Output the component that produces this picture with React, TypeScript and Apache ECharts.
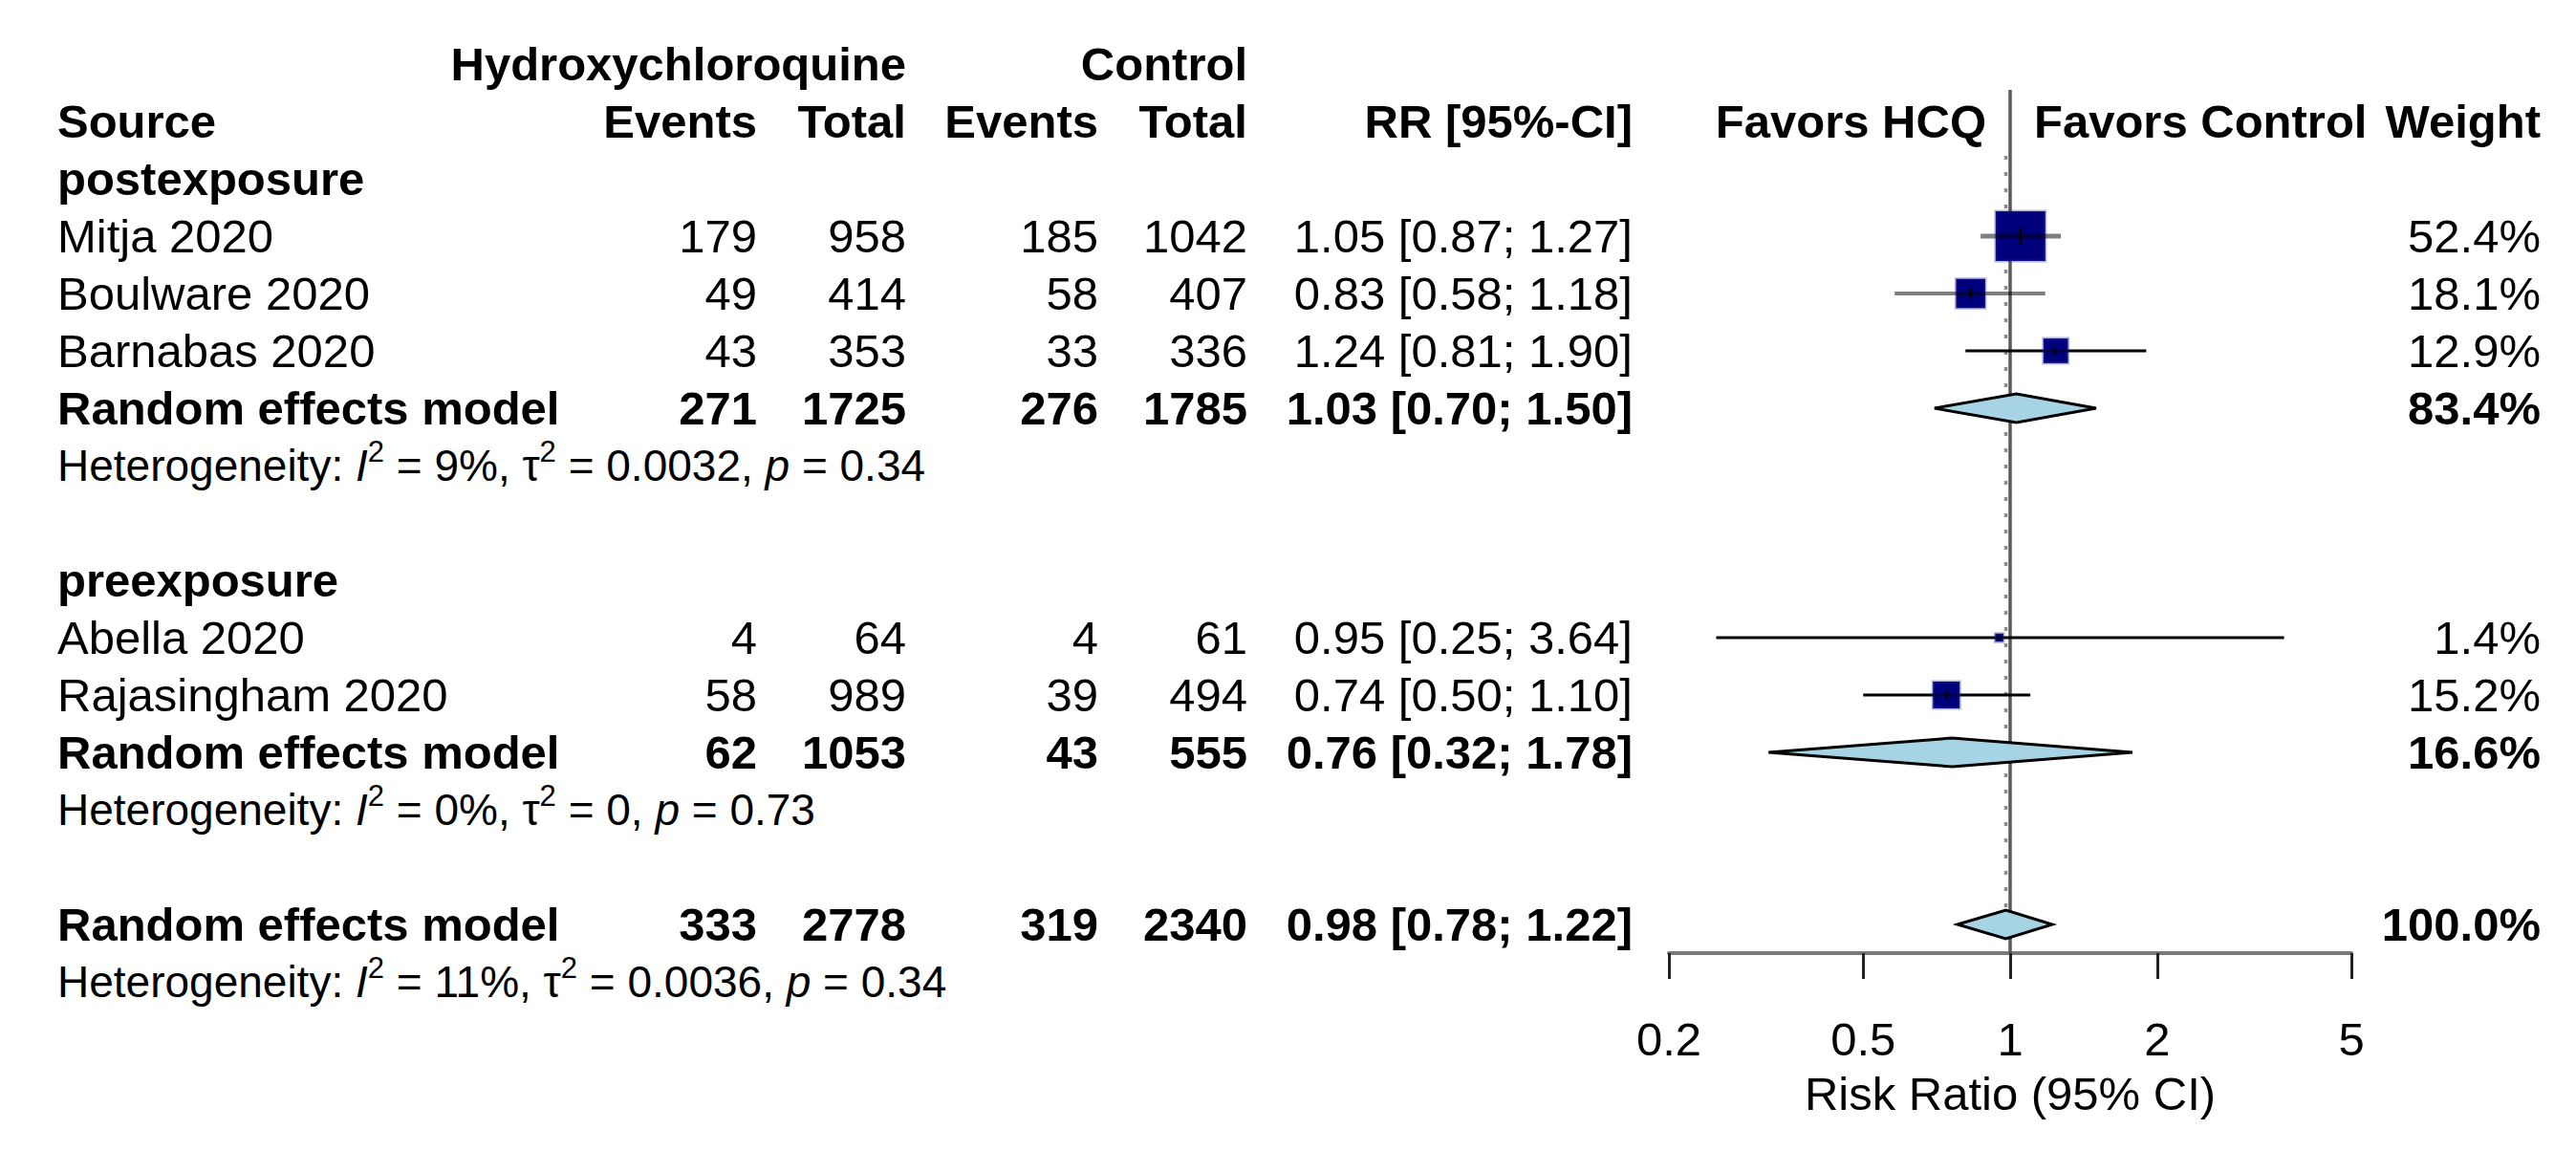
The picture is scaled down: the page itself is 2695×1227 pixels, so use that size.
import React, { useEffect, useRef } from "react";
import * as echarts from "echarts";

// ---------------- data ----------------
const groupNames = ["postexposure", "preexposure"];
const studyNames = ["Mitja 2020", "Boulware 2020", "Barnabas 2020", "Abella 2020", "Rajasingham 2020"];
const studyGroup = [0, 0, 0, 1, 1];
const hcqEvents = [179, 49, 43, 4, 58];
const hcqTotal = [958, 414, 353, 64, 989];
const ctrlEvents = [185, 58, 33, 4, 39];
const ctrlTotal = [1042, 407, 336, 61, 494];
const studyRR = [1.05, 0.83, 1.24, 0.95, 0.74];
const studyLower = [0.87, 0.58, 0.81, 0.25, 0.5];
const studyUpper = [1.27, 1.18, 1.9, 3.64, 1.1];
const studyWeight = [52.4, 18.1, 12.9, 1.4, 15.2];

const pooledLabel = "Random effects model";
const pooledHcqEvents = [271, 62, 333];
const pooledHcqTotal = [1725, 1053, 2778];
const pooledCtrlEvents = [276, 43, 319];
const pooledCtrlTotal = [1785, 555, 2340];
const pooledRR = [1.03, 0.76, 0.98];
const pooledLower = [0.7, 0.32, 0.78];
const pooledUpper = [1.5, 1.78, 1.22];
const pooledWeight = [83.4, 16.6, 100.0];
const hetI2 = ["9%", "0%", "11%"];
const hetTau2 = ["0.0032", "0", "0.0036"];
const hetP = ["0.34", "0.73", "0.34"];

const xTicks = [0.2, 0.5, 1, 2, 5];
const armLabels = ["Hydroxychloroquine", "Control"];
const columnLabels = ["Source", "Events", "Total", "Events", "Total", "RR [95%-CI]", "Weight"];
const favorLabels = ["Favors HCQ", "Favors Control"];
const xAxisTitle = "Risk Ratio (95% CI)";

// ---------------- styles / layout ----------------
const W = 2695;
const H = 1227;
const FONT = "'Liberation Sans', Arial, Helvetica, sans-serif";
const FS = 49;
const FS_HET = 46;
const ROW0_Y = 127;
const ROW_H = 60;
const ROW_MIN = -1.5;
const ROW_MAX = 14.5;
const GRID_TOP = ROW0_Y + ROW_MIN * ROW_H;
const GRID_H = (ROW_MAX - ROW_MIN) * ROW_H;
const FOREST_LEFT = 1746;
const FOREST_W = 714;
const X_SOURCE = 60;
const X_HE = 792;
const X_HT = 948;
const X_CE = 1149;
const X_CT = 1305;
const X_RR = 1708;
const X_W = 2658;
const FAVOR_OFFSET = 25;
const SQUARE_K = 7.18;
const ciLineColor = ["rgba(0,0,0,0.5)", "rgba(0,0,0,0.5)", "#000", "#000", "#000"];
const ciLineWidth = [5, 4, 3, 3, 3];

type TextItem = {
  x: number;
  row: number;
  text: string;
  align: "left" | "right" | "center";
  bold?: boolean;
  het?: boolean;
};

const fmt2 = (v: number) => v.toFixed(2);
const rrText = (r: number, l: number, u: number) => `${fmt2(r)} [${fmt2(l)}; ${fmt2(u)}]`;
const wText = (w: number) => `${w.toFixed(1)}%`;

function buildLayout() {
  const texts: TextItem[] = [];
  const studies: { row: number; i: number }[] = [];
  const diamonds: { row: number; k: number }[] = [];

  texts.push({ x: X_HT, row: -1, text: armLabels[0], align: "right", bold: true });
  texts.push({ x: X_CT, row: -1, text: armLabels[1], align: "right", bold: true });
  const headX = [X_SOURCE, X_HE, X_HT, X_CE, X_CT, X_RR, X_W];
  columnLabels.forEach((c, i) =>
    texts.push({ x: headX[i], row: 0, text: c, align: i === 0 ? "left" : "right", bold: true })
  );
  const mid = FOREST_LEFT + FOREST_W / 2;
  texts.push({ x: mid - FAVOR_OFFSET, row: 0, text: favorLabels[0], align: "right", bold: true });
  texts.push({ x: mid + FAVOR_OFFSET, row: 0, text: favorLabels[1], align: "left", bold: true });

  const pooledRow = (k: number, r: number) => {
    texts.push({ x: X_SOURCE, row: r, text: pooledLabel, align: "left", bold: true });
    texts.push({ x: X_HE, row: r, text: String(pooledHcqEvents[k]), align: "right", bold: true });
    texts.push({ x: X_HT, row: r, text: String(pooledHcqTotal[k]), align: "right", bold: true });
    texts.push({ x: X_CE, row: r, text: String(pooledCtrlEvents[k]), align: "right", bold: true });
    texts.push({ x: X_CT, row: r, text: String(pooledCtrlTotal[k]), align: "right", bold: true });
    texts.push({ x: X_RR, row: r, text: rrText(pooledRR[k], pooledLower[k], pooledUpper[k]), align: "right", bold: true });
    texts.push({ x: X_W, row: r, text: wText(pooledWeight[k]), align: "right", bold: true });
    diamonds.push({ row: r, k });
    texts.push({
      x: X_SOURCE,
      row: r + 1,
      text: `Heterogeneity: {i|I}{s|2} = ${hetI2[k]}, \u03c4{s|2} = ${hetTau2[k]}, {i|p} = ${hetP[k]}`,
      align: "left",
      het: true,
    });
  };

  let r = 1;
  groupNames.forEach((g, gi) => {
    texts.push({ x: X_SOURCE, row: r, text: g, align: "left", bold: true });
    r++;
    studyNames.forEach((s, i) => {
      if (studyGroup[i] !== gi) return;
      texts.push({ x: X_SOURCE, row: r, text: s, align: "left" });
      texts.push({ x: X_HE, row: r, text: String(hcqEvents[i]), align: "right" });
      texts.push({ x: X_HT, row: r, text: String(hcqTotal[i]), align: "right" });
      texts.push({ x: X_CE, row: r, text: String(ctrlEvents[i]), align: "right" });
      texts.push({ x: X_CT, row: r, text: String(ctrlTotal[i]), align: "right" });
      texts.push({ x: X_RR, row: r, text: rrText(studyRR[i], studyLower[i], studyUpper[i]), align: "right" });
      texts.push({ x: X_W, row: r, text: wText(studyWeight[i]), align: "right" });
      studies.push({ row: r, i });
      r++;
    });
    pooledRow(gi, r);
    r += 3;
  });
  pooledRow(2, r);
  return { texts, studies, diamonds, lastRow: r };
}

export default function App() {
  const ref = useRef<HTMLDivElement>(null);

  useEffect(() => {
    document.body.style.margin = "0";
    document.body.style.overflow = "hidden";
    if (!ref.current) return;
    const chart = echarts.init(ref.current, undefined, { renderer: "svg" });
    const { texts, studies, diamonds } = buildLayout();
    const lnTicks = xTicks.map((t) => Math.log(t));
    const overallLn = Math.log(pooledRR[2]);

    const option: any = {
      animation: false,
      backgroundColor: "#fff",
      grid: [
        { left: 0, width: W, top: GRID_TOP, height: GRID_H },
        { left: FOREST_LEFT, width: FOREST_W, top: GRID_TOP, height: GRID_H },
      ],
      xAxis: [
        { gridIndex: 0, type: "value", min: 0, max: W, show: false },
        {
          gridIndex: 1,
          type: "value",
          min: Math.log(xTicks[0]),
          max: Math.log(xTicks[xTicks.length - 1]),
          splitLine: { show: false },
          axisLine: { show: true, onZero: false, lineStyle: { color: "#7a7a7a", width: 4 } },
          axisTick: { show: true, customValues: lnTicks, length: 27, lineStyle: { color: "#222", width: 3 } },
          axisLabel: {
            show: true,
            customValues: lnTicks,
            formatter: (v: number) => {
              const idx = lnTicks.findIndex((t) => Math.abs(t - v) < 1e-6);
              return idx >= 0 ? String(xTicks[idx]) : "";
            },
            fontSize: FS,
            fontFamily: FONT,
            color: "#000",
            margin: 90,
            verticalAlign: "middle",
          },
          name: xAxisTitle,
          nameLocation: "middle",
          nameGap: 147,
          nameTextStyle: { fontSize: FS, fontFamily: FONT, color: "#000", verticalAlign: "middle" },
        },
      ],
      yAxis: [
        { gridIndex: 0, type: "value", inverse: true, min: ROW_MIN, max: ROW_MAX, show: false },
        { gridIndex: 1, type: "value", inverse: true, min: ROW_MIN, max: ROW_MAX, show: false },
      ],
      series: [
        // reference lines
        {
          type: "custom",
          xAxisIndex: 1,
          yAxisIndex: 1,
          silent: true,
          data: [[0, overallLn]],
          renderItem: (params: any, api: any) => {
            const nullTop = api.coord([api.value(0), -0.55]);
            const nullBot = api.coord([api.value(0), ROW_MAX]);
            const dTop = api.coord([api.value(1), 0.6]);
            const dBot = api.coord([api.value(1), 14.22]);
            return {
              type: "group",
              children: [
                {
                  type: "line",
                  shape: { x1: dTop[0], y1: dTop[1], x2: dBot[0], y2: dBot[1] },
                  style: { stroke: "#8a8a8a", lineWidth: 3.5, lineDash: [4, 13] },
                },
                {
                  type: "line",
                  shape: { x1: nullTop[0], y1: nullTop[1], x2: nullBot[0], y2: nullBot[1] },
                  style: { stroke: "#5a5a5a", lineWidth: 3.5 },
                },
              ],
            };
          },
        },
        // studies
        {
          type: "custom",
          xAxisIndex: 1,
          yAxisIndex: 1,
          silent: true,
          data: studies.map((s) => [
            Math.log(studyRR[s.i]),
            s.row,
            Math.log(studyLower[s.i]),
            Math.log(studyUpper[s.i]),
            studyWeight[s.i],
          ]),
          renderItem: (params: any, api: any) => {
            const i = studies[params.dataIndex].i;
            const c = api.coord([api.value(0), api.value(1)]);
            const lo = api.coord([api.value(2), api.value(1)]);
            const hi = api.coord([api.value(3), api.value(1)]);
            const side = SQUARE_K * Math.sqrt(api.value(4));
            const lw = ciLineWidth[i];
            const tick = Math.max(4, Math.min(side * 0.34, 17));
            return {
              type: "group",
              children: [
                {
                  type: "line",
                  shape: { x1: lo[0], y1: c[1], x2: hi[0], y2: c[1] },
                  style: { stroke: ciLineColor[i], lineWidth: lw },
                },
                {
                  type: "rect",
                  shape: { x: c[0] - side / 2, y: c[1] - side / 2, width: side, height: side },
                  style: { fill: "#00007c", stroke: "rgba(40,40,150,0.35)", lineWidth: 3 },
                },
                {
                  type: "line",
                  shape: {
                    x1: Math.max(lo[0], c[0] - side / 2),
                    y1: c[1],
                    x2: Math.min(hi[0], c[0] + side / 2),
                    y2: c[1],
                  },
                  style: { stroke: "rgba(0,0,0,0.45)", lineWidth: lw },
                },
                {
                  type: "line",
                  shape: { x1: c[0], y1: c[1] - tick / 2, x2: c[0], y2: c[1] + tick / 2 },
                  style: { stroke: "#000", lineWidth: 2.5 },
                },
              ],
            };
          },
        },
        // diamonds
        {
          type: "custom",
          xAxisIndex: 1,
          yAxisIndex: 1,
          silent: true,
          data: diamonds.map((d) => [
            Math.log(pooledRR[d.k]),
            d.row,
            Math.log(pooledLower[d.k]),
            Math.log(pooledUpper[d.k]),
          ]),
          renderItem: (params: any, api: any) => {
            const row = api.value(1);
            const top = api.coord([api.value(0), row - 0.25]);
            const bot = api.coord([api.value(0), row + 0.25]);
            const lo = api.coord([api.value(2), row]);
            const hi = api.coord([api.value(3), row]);
            return {
              type: "polygon",
              shape: { points: [lo, top, hi, bot] },
              style: { fill: "#a6d4e4", stroke: "#000", lineWidth: 3 },
            };
          },
        },
        // texts
        {
          type: "custom",
          xAxisIndex: 0,
          yAxisIndex: 0,
          silent: true,
          data: texts.map((t) => [t.x, t.row]),
          renderItem: (params: any, api: any) => {
            const t = texts[params.dataIndex];
            const p = api.coord([api.value(0), api.value(1)]);
            const base: any = {
              text: t.text,
              fill: "#000",
              fontFamily: FONT,
              fontSize: t.het ? FS_HET : FS,
              fontWeight: t.bold ? "bold" : "normal",
              align: t.align,
              textAlign: t.align,
              verticalAlign: "middle",
              textVerticalAlign: "middle",
            };
            if (t.het) {
              base.lineHeight = 60;
              base.rich = {
                i: { fontStyle: "italic", fontSize: FS_HET, fontFamily: FONT, fill: "#000", lineHeight: 60 },
                s: { fontSize: 31, fontFamily: FONT, fill: "#000", verticalAlign: "top", lineHeight: 26 },
              };
            }
            return { type: "text", x: p[0], y: p[1], style: base };
          },
        },
      ],
    };

    chart.setOption(option);
    return () => chart.dispose();
  }, []);

  return <div ref={ref} style={{ width: W, height: H }} />;
}
